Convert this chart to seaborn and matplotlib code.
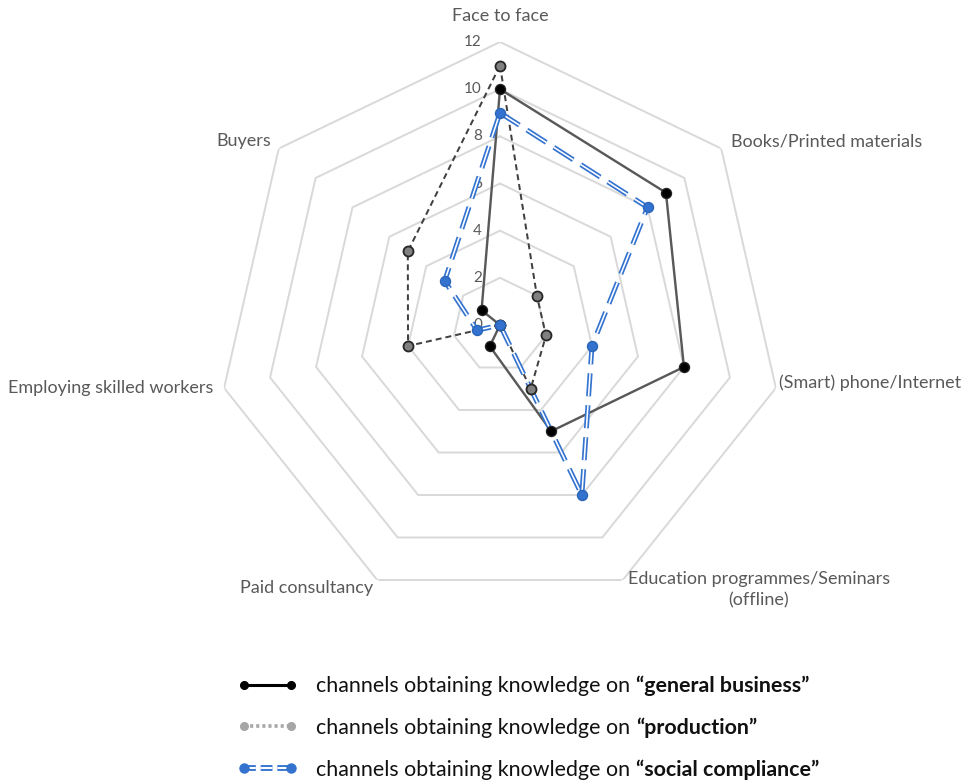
import numpy as np
import pandas as pd
import matplotlib
matplotlib.use("Agg")
import matplotlib.pyplot as plt
from matplotlib.lines import Line2D
from matplotlib.legend_handler import HandlerTuple
import seaborn as sns

# Knowledge channels (clockwise from the top)
categories = [
    "Face to face",
    "Books/Printed materials",
    "(Smart) phone/Internet",
    "Education programmes/Seminars\n(offline)",
    "Paid consultancy",
    "Employing skilled workers",
    "Buyers",
]
general_business = [10, 9, 8, 5, 1, 0, 1]
production = [11, 2, 2, 3, 0, 4, 5]
social_compliance = [9, 8, 4, 8, 0, 1, 3]
radial_ticks = [0, 2, 4, 6, 8, 10, 12]

series_names = ["general business", "production", "social compliance"]
legend_prefix = "channels obtaining knowledge on "

sns.set_theme(style="white")
plt.rcParams["font.family"] = ["Lato", "DejaVu Sans"]
plt.rcParams["lines.scale_dashes"] = False

TXT_GREY = "#595959"
GRID_GREY = "#d9d9d9"
LINE_GREY = "#595959"
BLUE = "#3373cf"
PT = 0.72  # points per pixel at 100 dpi

fig = plt.figure(figsize=(9.76, 7.82), dpi=100)
cx, cy, R = 500, 325, 283
W, H = 976, 782
ax = fig.add_axes([(cx - R) / W, (H - cy - R) / H, 2 * R / W, 2 * R / H],
                  projection="polar")
ax.set_theta_zero_location("N")
ax.set_theta_direction(-1)
ax.set_ylim(0, 12)
ax.grid(False)
ax.spines["polar"].set_visible(False)
ax.set_xticks([])
ax.set_yticks([])
ax.set_facecolor("none")

n = len(categories)
theta = np.arange(n) * 2 * np.pi / n
theta_closed = np.append(theta, 2 * np.pi)

# heptagonal grid
for r in radial_ticks[1:]:
    ax.plot(theta_closed, [r] * (n + 1), color=GRID_GREY, lw=1.4 * PT * 1.4,
            zorder=1, solid_joinstyle="miter")

def closed_frame(values):
    return pd.DataFrame({"theta": theta_closed,
                         "value": list(values) + [values[0]]})

gb = closed_frame(general_business)
pr = closed_frame(production)
sc = closed_frame(social_compliance)

sns.lineplot(data=gb, x="theta", y="value", ax=ax, sort=False, estimator=None,
             color=LINE_GREY, lw=2.4 * PT, zorder=3)
sns.lineplot(data=pr, x="theta", y="value", ax=ax, sort=False, estimator=None,
             color="#404040", lw=2.0 * PT, linestyle=(0, (6 * PT, 4 * PT)),
             zorder=3)
sc_dash = (0, (23 * PT, 9 * PT))
sns.lineplot(data=sc, x="theta", y="value", ax=ax, sort=False, estimator=None,
             color=BLUE, lw=5.0 * PT, linestyle=sc_dash, zorder=3)
sns.lineplot(data=sc, x="theta", y="value", ax=ax, sort=False, estimator=None,
             color="white", lw=1.6 * PT, linestyle=sc_dash, zorder=3)

ms = (10 * PT) ** 2
sns.scatterplot(x=theta, y=general_business, ax=ax, color="black",
                edgecolor="#222222", linewidth=1, s=ms, zorder=5)
sns.scatterplot(x=theta, y=production, ax=ax, color="#808080",
                edgecolor="#262626", linewidth=1.3, s=ms, zorder=5)
sns.scatterplot(x=theta, y=social_compliance, ax=ax, color=BLUE,
                edgecolor="#2a64b8", linewidth=1, s=ms, zorder=6)
ax.set_xlabel("")
ax.set_ylabel("")
ax.set_ylim(0, 12)

# radial value labels along the top axis
for r in radial_ticks:
    ax.annotate(str(r), xy=(0, r), xytext=(-18 * PT, 0),
                textcoords="offset points", ha="right", va="center",
                fontsize=11, color=TXT_GREY, zorder=2)

# category labels around the outer ring
label_pos = [
    ((0, 26), "center", "center"),
    ((10, 7), "left", "center"),
    ((3, 5), "left", "center"),
    ((5, -10), "left", "center"),
    ((-4, -8), "right", "center"),
    ((-11, 0), "right", "center"),
    ((-8, 8), "right", "center"),
]
for t, lab, ((dx, dy), ha, va) in zip(theta, categories, label_pos):
    ax.annotate(lab, xy=(t, 12), xytext=(dx * PT, dy * PT),
                textcoords="offset points", ha=ha, va=va,
                multialignment="center", fontsize=13, color=TXT_GREY,
                linespacing=1.4)

# legend
LEG_FS = 15.4
h_gen = Line2D([], [], color="black", lw=2.2, marker="o", ms=5.5)
h_pro = Line2D([], [], color="#a6a6a6", lw=2.6, marker="o", ms=5.5,
               linestyle=(0, (2.2, 2.2)))
sc_leg_dash = (0, (8.5, 3.5))
h_sc_out = Line2D([], [], color=BLUE, lw=4.2, linestyle=sc_leg_dash)
h_sc_in = Line2D([], [], color="white", lw=1.5, linestyle=sc_leg_dash)
h_sc_mk = Line2D([], [], color=BLUE, lw=0, marker="o", ms=6.5)
leg = fig.legend([h_gen, h_pro, (h_sc_out, h_sc_in, h_sc_mk)],
                 [legend_prefix] * 3,
                 handler_map={tuple: HandlerTuple(ndivide=1)},
                 loc="upper left", bbox_to_anchor=(238 / W, 1 - 676 / H),
                 frameon=False, fontsize=LEG_FS, handlelength=2.76,
                 handletextpad=0.9, labelspacing=1.02, borderpad=0,
                 borderaxespad=0, numpoints=2)
for t in leg.get_texts():
    t.set_color("#111111")

fig.canvas.draw()
renderer = fig.canvas.get_renderer()
for t, name in zip(leg.get_texts(), series_names):
    bb = t.get_window_extent(renderer)
    fig.text(bb.x1 / W, (bb.y0 + bb.y1) / 2 / H, "\u201c" + name + "\u201d",
             fontsize=LEG_FS, fontweight="bold", color="#111111",
             ha="left", va="center")

fig.savefig("out.png", dpi=100)
